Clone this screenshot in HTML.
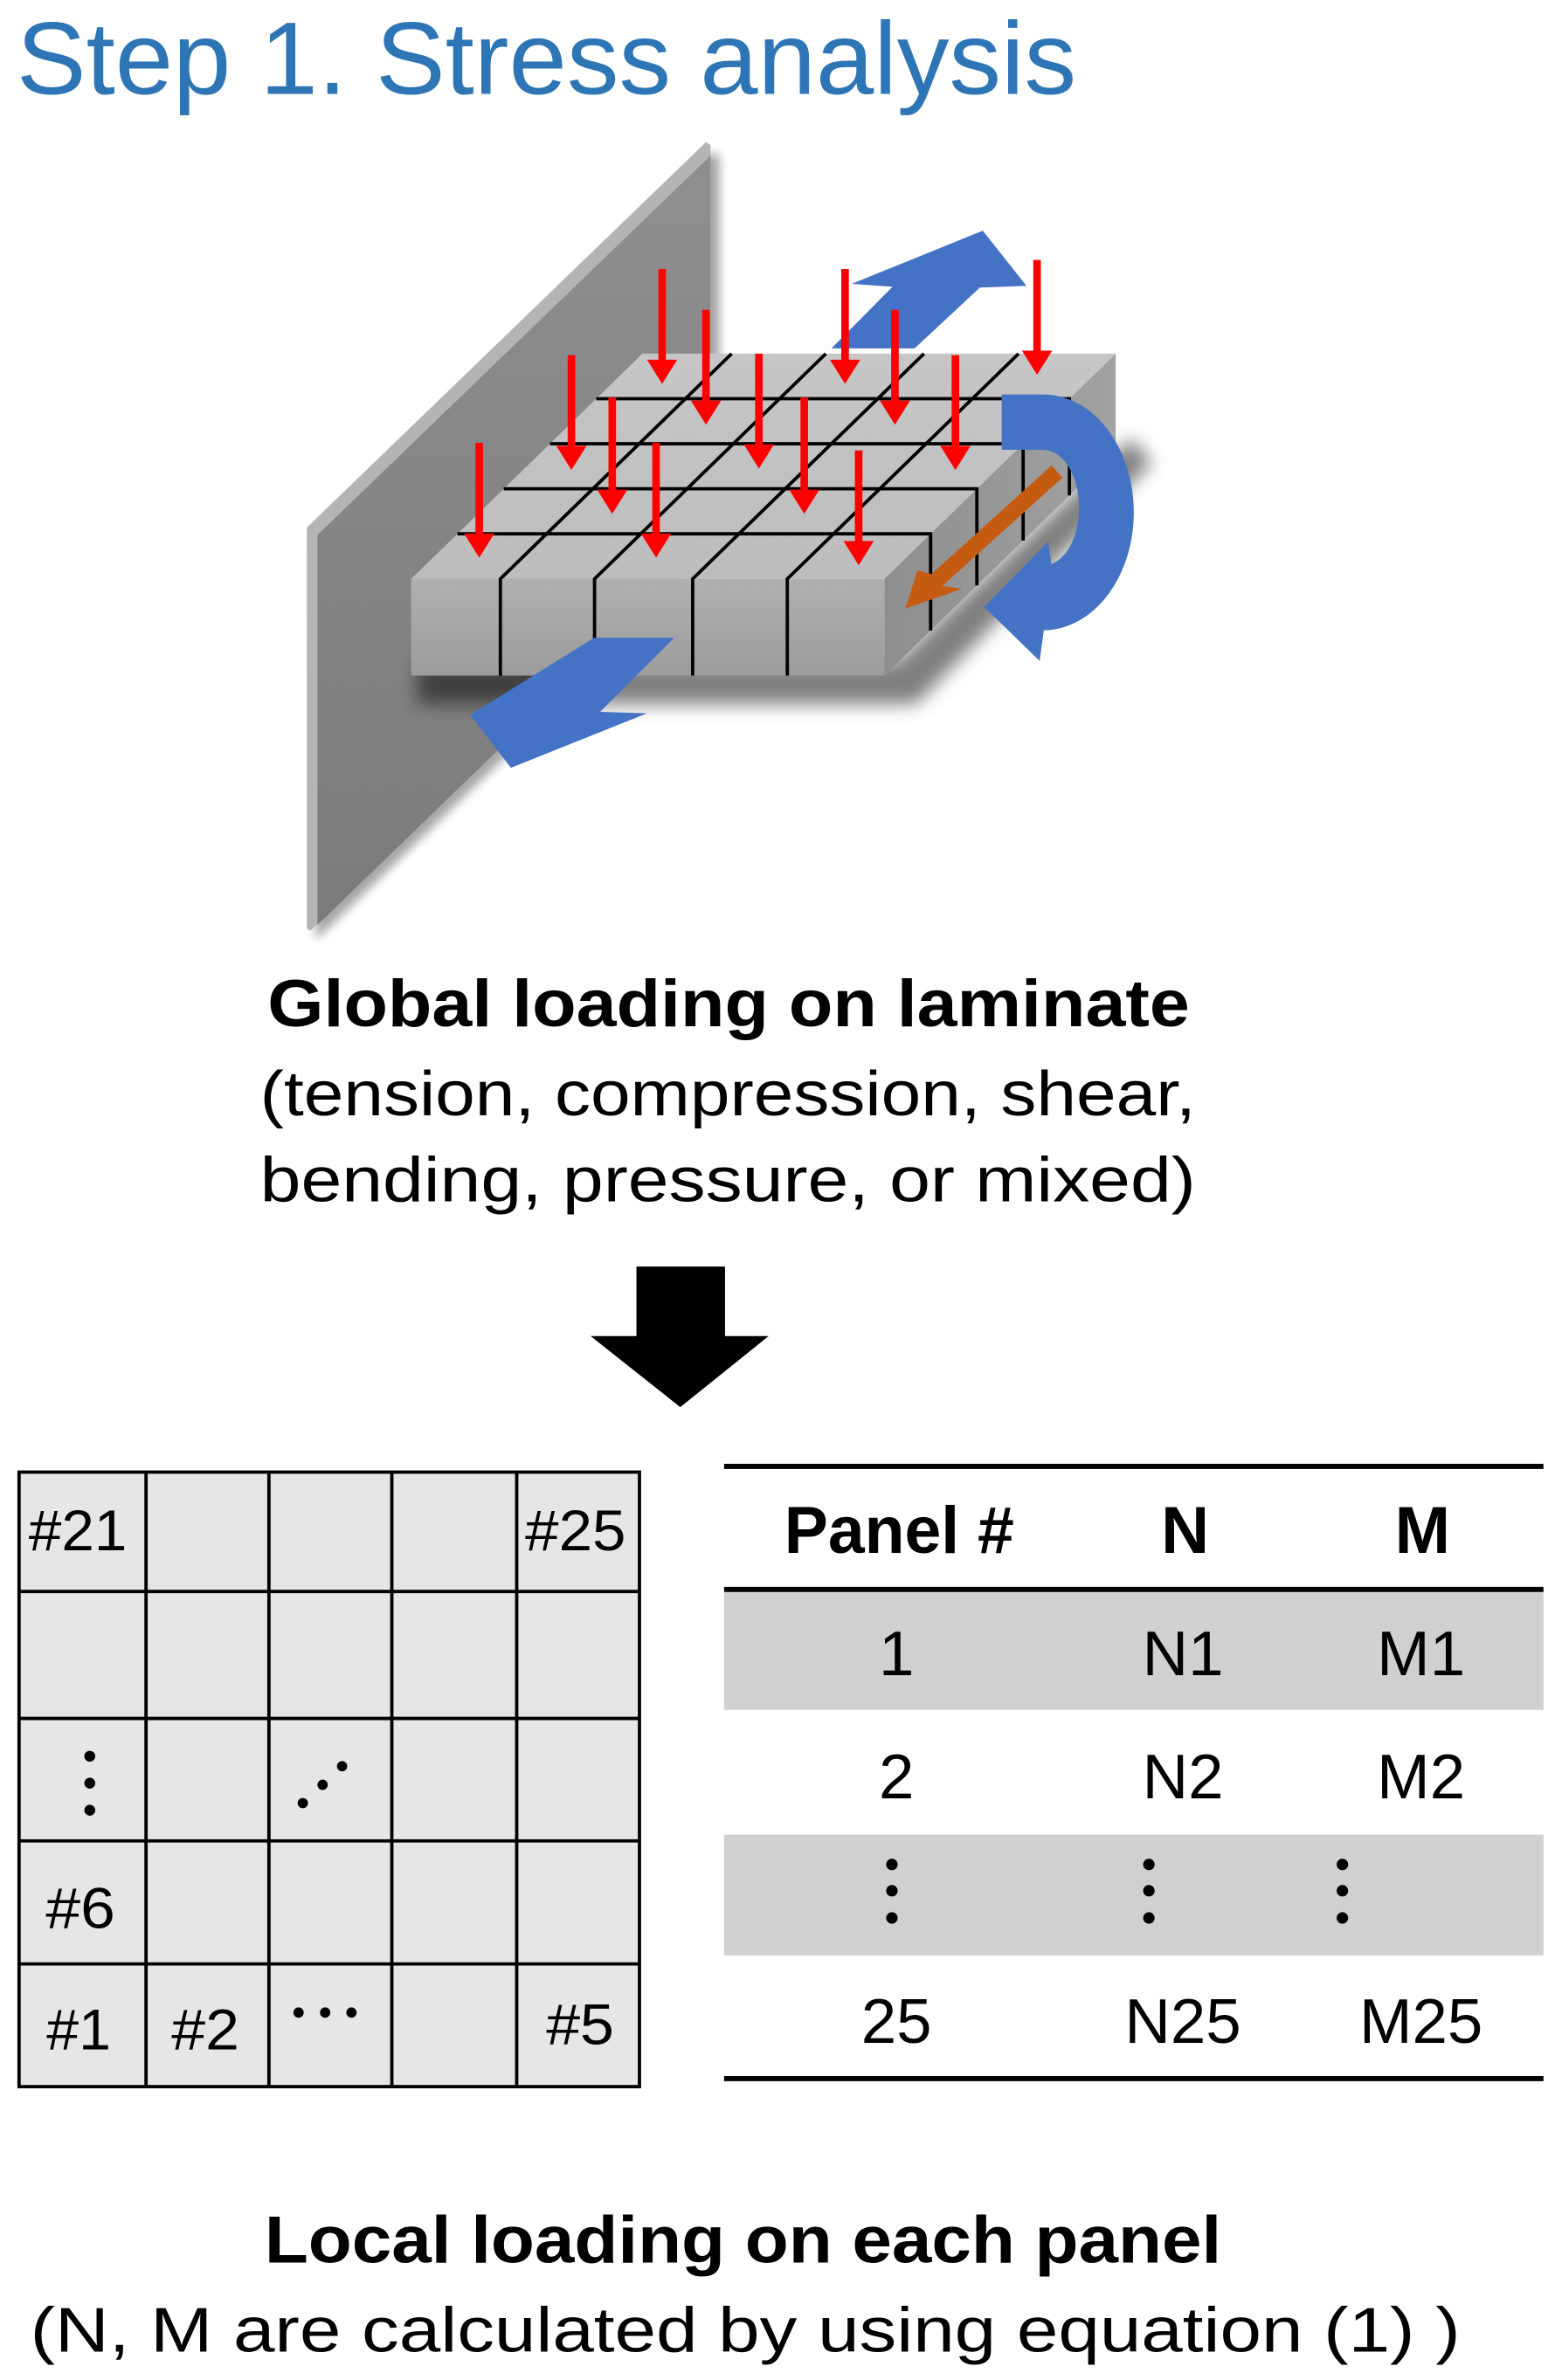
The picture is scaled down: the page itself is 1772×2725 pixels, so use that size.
<!DOCTYPE html>
<html>
<head>
<meta charset="utf-8">
<style>
  html,body{margin:0;padding:0;background:#ffffff;}
  svg{display:block;}
  text{font-family:"Liberation Sans", Arial, sans-serif;}
</style>
</head>
<body>
<svg width="1772" height="2725" viewBox="0 0 1024 1574.7" preserveAspectRatio="none" xmlns="http://www.w3.org/2000/svg">
  <defs>
    <filter id="blur6" x="-30%" y="-30%" width="160%" height="160%">
      <feGaussianBlur stdDeviation="6"/>
    </filter>
    <filter id="blur3" x="-30%" y="-30%" width="160%" height="160%">
      <feGaussianBlur stdDeviation="3"/>
    </filter>
    <linearGradient id="wallG" x1="0" y1="0" x2="0" y2="1">
      <stop offset="0" stop-color="#8f8f8f"/>
      <stop offset="1" stop-color="#7b7b7b"/>
    </linearGradient>
    <linearGradient id="frontG" x1="0" y1="0" x2="0" y2="1">
      <stop offset="0" stop-color="#b0b0b0"/>
      <stop offset="1" stop-color="#9c9c9c"/>
    </linearGradient>
    <linearGradient id="rightG" x1="0" y1="0" x2="1" y2="0">
      <stop offset="0" stop-color="#8e8e8e"/>
      <stop offset="1" stop-color="#a2a2a2"/>
    </linearGradient>
    <linearGradient id="topG" x1="0" y1="1" x2="0" y2="0">
      <stop offset="0" stop-color="#bdbdbd"/>
      <stop offset="1" stop-color="#c6c6c6"/>
    </linearGradient>
  </defs>

  <!-- Title -->
  <text x="11" y="62" font-size="68" fill="#2e75b6" textLength="701" lengthAdjust="spacingAndGlyphs">Step 1. Stress analysis</text>

  <!-- Wall shadow -->
  <polygon points="207,356 472,100 476,104 476,364 209,622" fill="#000" opacity="0.35" filter="url(#blur3)"/>
  <!-- Wall bevel -->
  <polygon points="203,349 467,94 470,96 470,360 205,616 203,614" fill="#b4b4b4"/>
  <!-- Wall face -->
  <polygon points="210,354 470,103 470,360 210,612" fill="url(#wallG)"/>

  <!-- Block shadow -->
  <polygon points="276,438 592,438 748,290 762,306 606,466 276,466" fill="#000" opacity="0.5" filter="url(#blur6)"/>

  <!-- Block faces -->
  <polygon points="272,383 585,383 738,234 425,234" fill="url(#topG)"/>
  <polygon points="272,383 585,383 585,447 272,447" fill="url(#frontG)"/>
  <polygon points="585,383 738,234 738,298 585,447" fill="url(#rightG)"/>

  <!-- Grid lines on block -->
  <g stroke="#000" stroke-width="2.2" fill="none">
    <!-- horizontal lines on top face turning down the right face -->
    <polyline points="302.6,353.2 615.6,353.2 615.6,417.2"/>
    <polyline points="333.2,323.4 646.2,323.4 646.2,387.4"/>
    <polyline points="363.8,293.6 676.8,293.6 676.8,357.6"/>
    <polyline points="394.4,263.8 707.4,263.8 707.4,327.8"/>
    <!-- diagonal lines on top face continuing down the front face -->
    <polyline points="484,234 331,383 331,447"/>
    <polyline points="546.3,234 393.3,383 393.3,447"/>
    <polyline points="611.2,234 458.2,383 458.2,447"/>
    <polyline points="673.8,234 520.8,383 520.8,447"/>
  </g>

  <!-- Orange arrow -->
  <polygon points="702.8,316 695.6,308 616.1,379.9 606.8,377.4 599,402.6 636.6,389.5 623.3,387.7" fill="#c55a11"/>

  <!-- Lower blue arrow -->
  <polygon points="393,422 446,422 397,471 428,472 338,508 311,473" fill="#4472c4"/>

  <!-- Upper blue arrow -->
  <polygon points="550,230.5 590.4,189.7 563.4,187.8 650.1,152.6 679,189.1 648.2,190.3 605,230.5" fill="#4472c4"/>

  <!-- Red arrows -->
  <g fill="#ff0000">
    <rect x="435.5" y="178" width="5" height="62"/><polygon points="428,238 448,238 438,254"/>
    <rect x="464.5" y="205" width="5" height="62"/><polygon points="457,265 477,265 467,281"/>
    <rect x="556.5" y="178" width="5" height="62"/><polygon points="549,238 569,238 559,254"/>
    <rect x="589.5" y="205" width="5" height="62"/><polygon points="582,265 602,265 592,281"/>
    <rect x="683.5" y="172" width="5" height="62"/><polygon points="676,232 696,232 686,248"/>
    <rect x="375.5" y="235" width="5" height="62"/><polygon points="368,295 388,295 378,311"/>
    <rect x="402.5" y="263" width="5" height="63"/><polygon points="395,324 415,324 405,340"/>
    <rect x="499.5" y="234" width="5" height="62"/><polygon points="492,294 512,294 502,310"/>
    <rect x="529.5" y="263" width="5" height="63"/><polygon points="522,324 542,324 532,340"/>
    <rect x="629.5" y="235" width="5" height="62"/><polygon points="622,295 642,295 632,311"/>
    <rect x="314.5" y="293" width="5" height="62"/><polygon points="307,353 327,353 317,369"/>
    <rect x="431.5" y="293" width="5" height="62"/><polygon points="424,353 444,353 434,369"/>
    <rect x="565.5" y="298" width="5" height="62"/><polygon points="558,358 578,358 568,374"/>
  </g>

  <!-- Curved blue arrow -->
  <path d="M662.6,261 L690,261 A60,78 0 0 1 750,339 A60,78 0 0 1 690.5,417 L687.7,437.3 L651.1,401.6 L693.4,358.3 L695.4,373.2 A23.7,37.5 0 0 0 713.7,335 A23.7,37.5 0 0 0 690,297.6 L662.6,297.6 Z" fill="#4472c4"/>

  <!-- Global loading text -->
  <text x="177" y="679" font-size="44" font-weight="bold" fill="#000" textLength="610" lengthAdjust="spacingAndGlyphs">Global loading on laminate</text>
  <text x="172" y="738" font-size="42" fill="#000" textLength="619" lengthAdjust="spacingAndGlyphs">(tension, compression, shear,</text>
  <text x="172" y="795" font-size="42" fill="#000" textLength="619" lengthAdjust="spacingAndGlyphs">bending, pressure, or mixed)</text>

  <!-- Black down arrow -->
  <polygon points="421,838 479.6,838 479.6,884 508.5,884 450,931 390.7,884 421,884" fill="#000"/>

  <!-- Panel grid -->
  <rect x="12.6" y="974" width="410.4" height="406.6" fill="#e6e6e6" stroke="#000" stroke-width="2.2"/>
  <g stroke="#000" stroke-width="2.2">
    <line x1="96.6" y1="974" x2="96.6" y2="1380.6"/>
    <line x1="177.9" y1="974" x2="177.9" y2="1380.6"/>
    <line x1="259.2" y1="974" x2="259.2" y2="1380.6"/>
    <line x1="341.8" y1="974" x2="341.8" y2="1380.6"/>
    <line x1="12.6" y1="1053" x2="423" y2="1053"/>
    <line x1="12.6" y1="1137" x2="423" y2="1137"/>
    <line x1="12.6" y1="1218" x2="423" y2="1218"/>
    <line x1="12.6" y1="1299.4" x2="423" y2="1299.4"/>
  </g>
  <g font-size="38" fill="#000">
    <text x="19" y="1025.7" textLength="65" lengthAdjust="spacingAndGlyphs">#21</text>
    <text x="347.4" y="1025.7" textLength="66.6" lengthAdjust="spacingAndGlyphs">#25</text>
    <text x="30.3" y="1275.6" textLength="45.9" lengthAdjust="spacingAndGlyphs">#6</text>
    <text x="30.8" y="1356" textLength="42.6" lengthAdjust="spacingAndGlyphs">#1</text>
    <text x="113.4" y="1356" textLength="44.9" lengthAdjust="spacingAndGlyphs">#2</text>
    <text x="361.3" y="1352.6" textLength="44.9" lengthAdjust="spacingAndGlyphs">#5</text>
  </g>
  <g fill="#000">
    <circle cx="59.4" cy="1162" r="3.6"/>
    <circle cx="59.4" cy="1179.8" r="3.6"/>
    <circle cx="59.4" cy="1197.7" r="3.6"/>
    <circle cx="200.3" cy="1193" r="3.4"/>
    <circle cx="213.4" cy="1180.9" r="3.4"/>
    <circle cx="226.3" cy="1168.6" r="3.4"/>
    <circle cx="197.5" cy="1331.6" r="3.4"/>
    <circle cx="215.1" cy="1331.6" r="3.4"/>
    <circle cx="232.5" cy="1331.6" r="3.4"/>
  </g>

  <!-- Table -->
  <rect x="479" y="1053" width="542" height="78.3" fill="#d0d0d0"/>
  <rect x="479" y="1213.9" width="542" height="79.9" fill="#d0d0d0"/>
  <g stroke="#000" stroke-width="3.4">
    <line x1="479" y1="970.2" x2="1021" y2="970.2"/>
    <line x1="479" y1="1051.6" x2="1021" y2="1051.6"/>
    <line x1="479" y1="1375.3" x2="1021" y2="1375.3"/>
  </g>
  <g font-size="44" font-weight="bold" fill="#000">
    <text x="518.8" y="1027.5" textLength="152" lengthAdjust="spacingAndGlyphs">Panel #</text>
    <text x="784" y="1027.5" text-anchor="middle">N</text>
    <text x="941" y="1027.5" text-anchor="middle">M</text>
  </g>
  <g font-size="42" fill="#000" text-anchor="middle">
    <text x="593" y="1108.3">1</text>
    <text x="782.5" y="1108.3">N1</text>
    <text x="940" y="1108.3">M1</text>
    <text x="593" y="1189.7">2</text>
    <text x="782.5" y="1189.7">N2</text>
    <text x="940" y="1189.7">M2</text>
    <text x="593" y="1351.6">25</text>
    <text x="782.5" y="1351.6">N25</text>
    <text x="940" y="1351.6">M25</text>
  </g>
  <g fill="#000">
    <circle cx="590" cy="1233.6" r="3.8"/>
    <circle cx="590" cy="1251" r="3.8"/>
    <circle cx="590" cy="1269" r="3.8"/>
    <circle cx="760" cy="1233.6" r="3.8"/>
    <circle cx="760" cy="1251" r="3.8"/>
    <circle cx="760" cy="1269" r="3.8"/>
    <circle cx="888" cy="1233.6" r="3.8"/>
    <circle cx="888" cy="1251" r="3.8"/>
    <circle cx="888" cy="1269" r="3.8"/>
  </g>

  <!-- Bottom text -->
  <text x="175" y="1497" font-size="44" font-weight="bold" fill="#000" textLength="633" lengthAdjust="spacingAndGlyphs">Local loading on each panel</text>
  <text x="20" y="1556" font-size="42" fill="#000" textLength="946" lengthAdjust="spacingAndGlyphs">(N, M are calculated by using equation (1) )</text>
</svg>
</body>
</html>
